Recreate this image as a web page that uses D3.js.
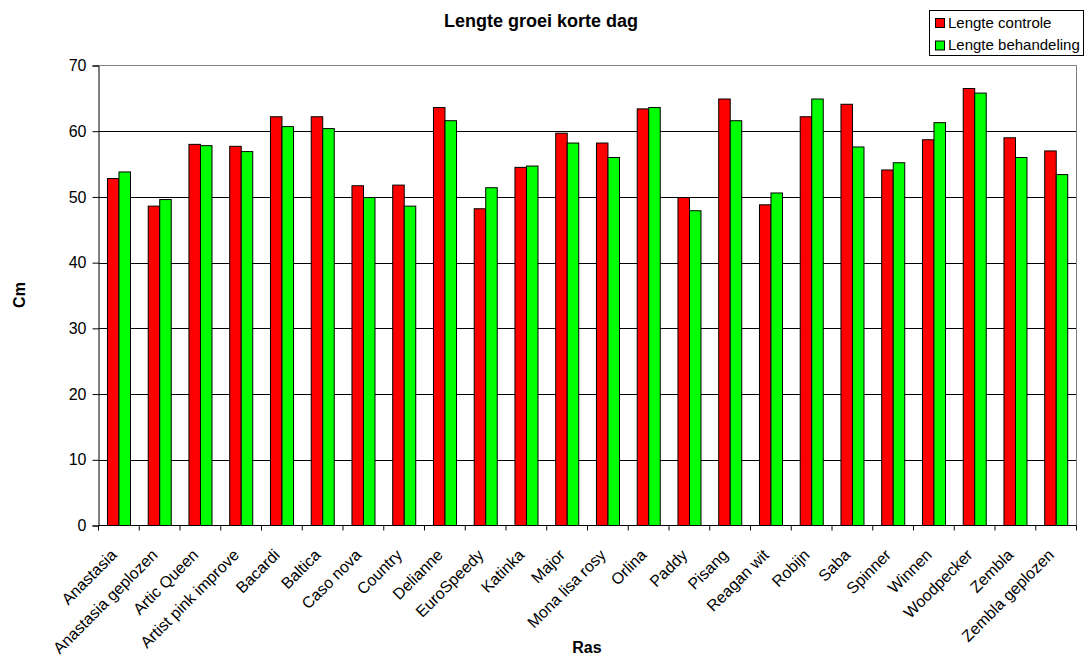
<!DOCTYPE html>
<html>
<head>
<meta charset="utf-8">
<script src="https://cdn.jsdelivr.net/npm/d3@7"></script>
<style>
  html, body { margin: 0; padding: 0; background: #fff; }
  svg { display: block; font-family: "Liberation Sans", Arial, sans-serif; }
</style>
</head>
<body>
<svg id="chart" width="1085" height="657"></svg>
<script>
// Varieties (Ras) and measured length in cm under short-day conditions
const categories = ["Anastasia", "Anastasia geplozen", "Artic Queen", "Artist pink improve", "Bacardi",
  "Baltica", "Caso nova", "Country", "Delianne", "EuroSpeedy", "Katinka", "Major", "Mona lisa rosy",
  "Orlina", "Paddy", "Pisang", "Reagan wit", "Robijn", "Saba", "Spinner", "Winnen", "Woodpecker",
  "Zembla", "Zembla geplozen"];
const lengteControle = [52.8, 48.6, 58.0, 57.7, 62.2, 62.2, 51.7, 51.8, 63.6, 48.2, 54.5, 59.7,
  58.2, 63.4, 49.9, 64.9, 48.8, 62.2, 64.1, 54.1, 58.7, 66.5, 59.0, 57.0];
const lengteBehandeling = [53.8, 49.6, 57.8, 56.9, 60.7, 60.4, 49.9, 48.6, 61.6, 51.4, 54.7, 58.2,
  56.0, 63.6, 47.9, 61.6, 50.6, 64.9, 57.6, 55.2, 61.3, 65.8, 56.0, 53.4];
const seriesNames = ["Lengte controle", "Lengte behandeling"];
const seriesColors = ["#ff0000", "#00ff00"];
const yTicks = [0, 10, 20, 30, 40, 50, 60, 70];

const svg = d3.select("#chart");
const plot = { left: 98.5, right: 1076.5, top: 65.5, bottom: 525.5 };

const x0 = d3.scaleBand().domain(categories).range([plot.left, plot.right]).paddingInner(0).paddingOuter(0);
const bw = x0.bandwidth();
const x1 = d3.scaleBand().domain(seriesNames)
  .range([bw * 0.22, bw * 0.785]).paddingInner(0).paddingOuter(0);
const y = d3.scaleLinear().domain([0, 70]).range([plot.bottom, plot.top]);

// horizontal gridlines
svg.append("g").selectAll("line")
  .data(yTicks.filter(t => t > 0 && t < 70))
  .join("line")
  .attr("x1", plot.left).attr("x2", plot.right)
  .attr("y1", d => Math.round(y(d)) + 0.5).attr("y2", d => Math.round(y(d)) + 0.5)
  .attr("stroke", "#000").attr("stroke-width", 1);

// plot area frame (top and right)
svg.append("path")
  .attr("d", `M${plot.left},${plot.top}H${plot.right}V${plot.bottom}`)
  .attr("fill", "none").attr("stroke", "#808080").attr("stroke-width", 1);

// bars
const rows = categories.map((c, i) => ({ cat: c, vals: [lengteControle[i], lengteBehandeling[i]] }));
const groups = svg.append("g").selectAll("g")
  .data(rows).join("g")
  .attr("transform", d => `translate(${x0(d.cat)},0)`);
groups.selectAll("rect")
  .data(d => d.vals.map((v, k) => ({ name: seriesNames[k], v, k })))
  .join("rect")
  .attr("x", d => x1(d.name))
  .attr("y", d => y(d.v))
  .attr("width", x1.bandwidth())
  .attr("height", d => y(0) - y(d.v))
  .attr("fill", d => seriesColors[d.k])
  .attr("stroke", "#000").attr("stroke-width", 1);

// y axis
const yAxis = svg.append("g")
  .attr("transform", `translate(${plot.left},0)`)
  .call(d3.axisLeft(y).tickValues(yTicks).tickSize(6).tickPadding(6).tickFormat(d3.format("d")));
yAxis.select(".domain").attr("stroke", "#000");
yAxis.selectAll(".tick line").attr("stroke", "#000");
yAxis.selectAll("text").attr("font-size", 16).attr("fill", "#000")
  .attr("font-family", "Liberation Sans, Arial, sans-serif");

// x axis with ticks at band boundaries
const xg = svg.append("g");
xg.append("line")
  .attr("x1", plot.left).attr("x2", plot.right)
  .attr("y1", plot.bottom).attr("y2", plot.bottom)
  .attr("stroke", "#000");
xg.selectAll("line.tick")
  .data(d3.range(categories.length + 1))
  .join("line").attr("class", "tick")
  .attr("x1", i => plot.left + i * bw).attr("x2", i => plot.left + i * bw)
  .attr("y1", plot.bottom).attr("y2", plot.bottom + 5)
  .attr("stroke", "#000");
xg.selectAll("text")
  .data(categories)
  .join("text")
  .attr("transform", d => `translate(${x0(d) + bw / 2 - 1},556) rotate(-45)`)
  .attr("text-anchor", "end")
  .attr("font-size", 16)
  .attr("fill", "#000")
  .text(d => d);

// titles
svg.append("text")
  .attr("x", 541).attr("y", 27)
  .attr("text-anchor", "middle")
  .attr("font-size", 18).attr("font-weight", "bold")
  .text("Lengte groei korte dag");
svg.append("text")
  .attr("transform", "translate(25,295) rotate(-90)")
  .attr("text-anchor", "middle")
  .attr("font-size", 16).attr("font-weight", "bold")
  .text("Cm");
svg.append("text")
  .attr("x", 587).attr("y", 653)
  .attr("text-anchor", "middle")
  .attr("font-size", 16).attr("font-weight", "bold")
  .text("Ras");

// legend
const lg = svg.append("g");
lg.append("rect")
  .attr("x", 929.5).attr("y", 10.5).attr("width", 154).attr("height", 45)
  .attr("fill", "#fff").attr("stroke", "#000");
seriesNames.forEach((name, k) => {
  const yy = 18.5 + k * 22.5;
  lg.append("rect")
    .attr("x", 935.5).attr("y", yy).attr("width", 9).attr("height", 9)
    .attr("fill", seriesColors[k]).attr("stroke", "#000");
  lg.append("text")
    .attr("x", 948).attr("y", yy + 9)
    .attr("font-size", 15).attr("fill", "#000")
    .text(name);
});
</script>
</body>
</html>
